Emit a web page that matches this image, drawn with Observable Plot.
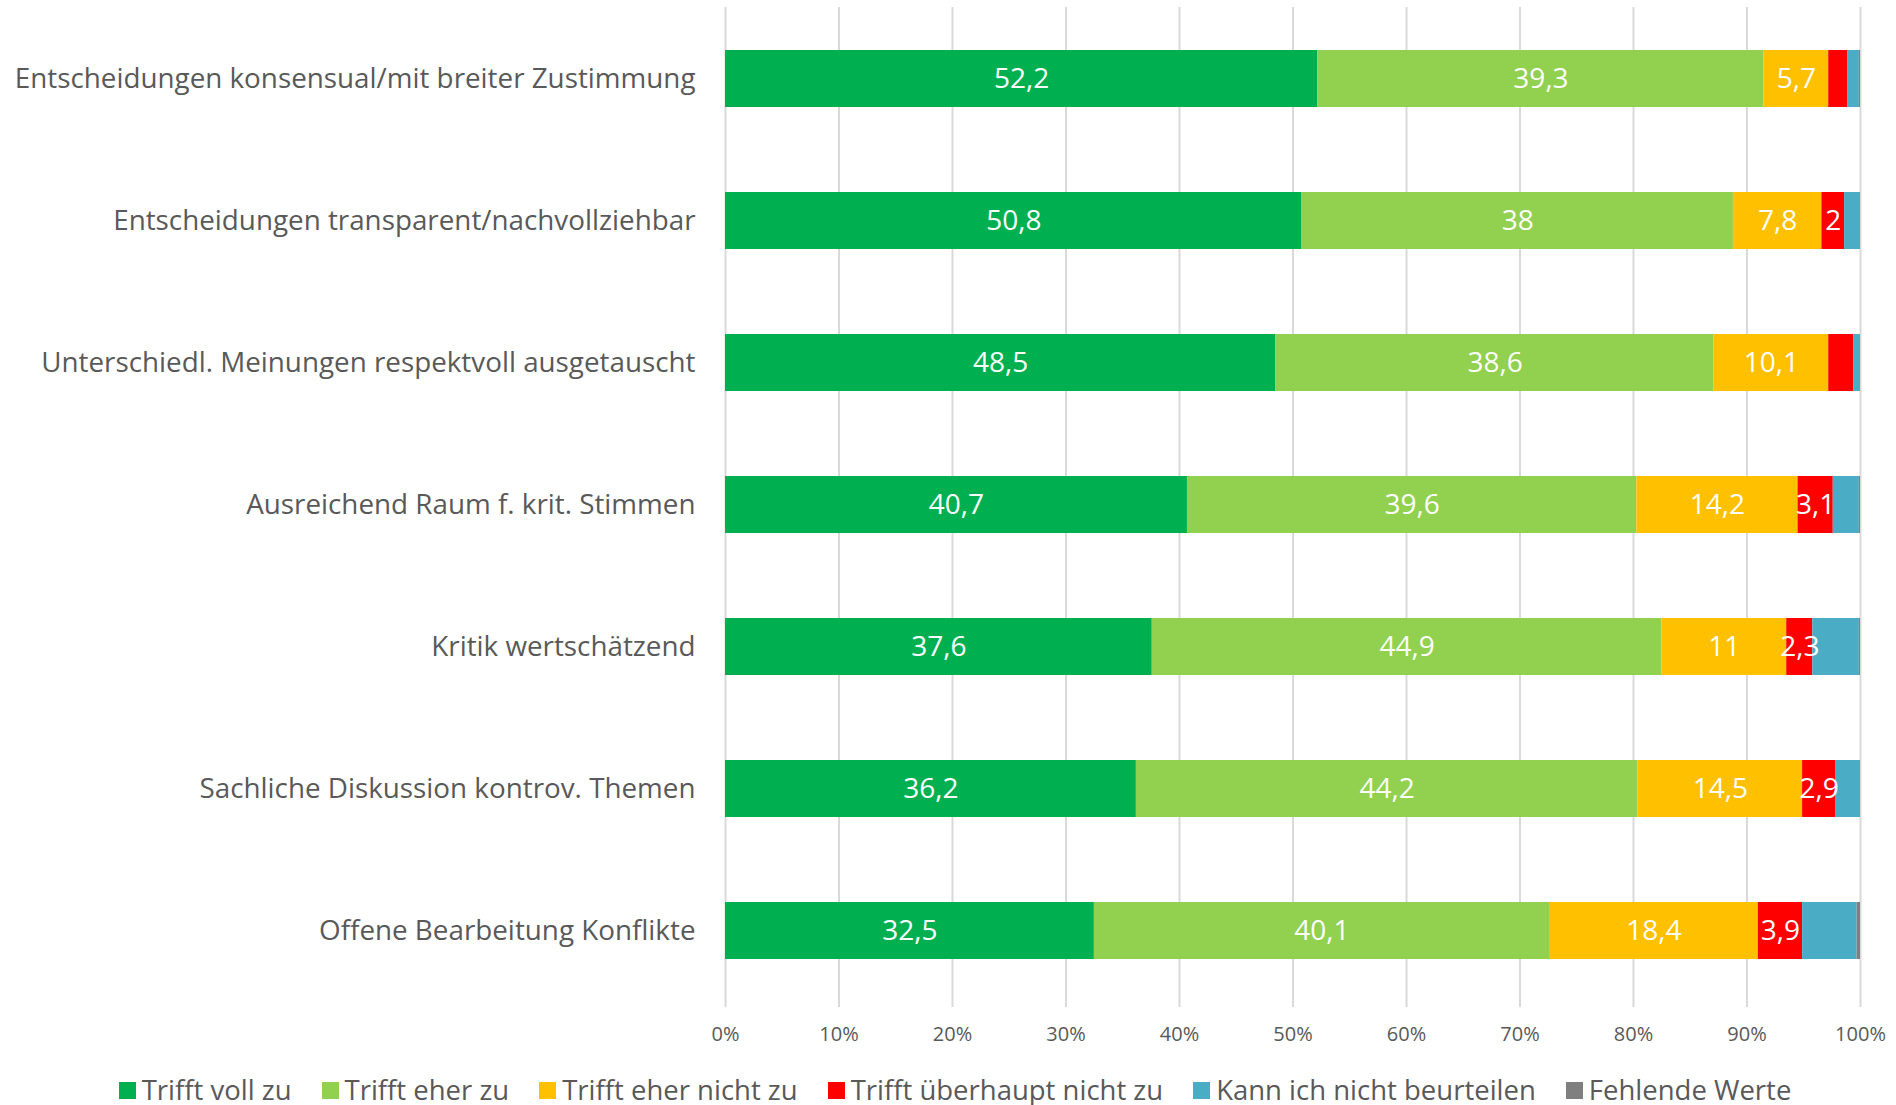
<!DOCTYPE html>
<html><head><meta charset="utf-8">
<script src="https://cdn.jsdelivr.net/npm/d3@7"></script>
<script src="https://cdn.jsdelivr.net/npm/@observablehq/plot@0.6"></script>
<style>
body{margin:0;background:#fff;font-family:"Open Sans",sans-serif;width:1896px;height:1105px;overflow:hidden}
#chart svg{display:block}
#legend{display:flex;justify-content:center;align-items:center;gap:30px;font-size:27.5px;line-height:1;color:#595959;height:36px;padding-top:12px;margin-left:14px}
#legend .item{display:flex;align-items:center;gap:6px}
#legend .sw{width:17px;height:17px;display:inline-block}
</style></head><body>
<div id="chart"></div><div id="legend"></div>
<script>
const categories = [
  "Entscheidungen konsensual/mit breiter Zustimmung",
  "Entscheidungen transparent/nachvollziehbar",
  "Unterschiedl. Meinungen respektvoll ausgetauscht",
  "Ausreichend Raum f. krit. Stimmen",
  "Kritik wertschätzend",
  "Sachliche Diskussion kontrov. Themen",
  "Offene Bearbeitung Konflikte"
];
const seriesNames = ["Trifft voll zu","Trifft eher zu","Trifft eher nicht zu","Trifft überhaupt nicht zu","Kann ich nicht beurteilen","Fehlende Werte"];
const seriesColors = ["#00B050","#92D050","#FFC000","#FF0000","#4BACC6","#7F7F7F"];
const trifftVollZu = [52.2, 50.8, 48.5, 40.7, 37.6, 36.2, 32.5];
const trifftEherZu = [39.3, 38, 38.6, 39.6, 44.9, 44.2, 40.1];
const trifftEherNichtZu = [5.7, 7.8, 10.1, 14.2, 11, 14.5, 18.4];
const trifftUeberhauptNichtZu = [1.7, 2, 2.2, 3.1, 2.3, 2.9, 3.9];
const kannNichtBeurteilen = [1.0, 1.4, 0.6, 2.3, 4.1, 2.2, 4.8];
const fehlendeWerte = [0.1, 0, 0, 0.1, 0.1, 0, 0.3];
// which series carry a data label, per category (red labels hidden where the original omits them)
const labelledSeries = [
  [0,1,2],[0,1,2,3],[0,1,2],[0,1,2,3],[0,1,2,3],[0,1,2,3],[0,1,2,3]
];
const xTicks = [0,10,20,30,40,50,60,70,80,90,100];

const seriesValues = [trifftVollZu, trifftEherZu, trifftEherNichtZu, trifftUeberhauptNichtZu, kannNichtBeurteilen, fehlendeWerte];
const rows = [];
categories.forEach((c, i) => {
  seriesValues.forEach((vals, s) => {
    rows.push({cat: c, series: seriesNames[s], value: vals[i],
      label: labelledSeries[i].includes(s) ? String(vals[i]).replace(".", ",") : ""});
  });
});

const chart = Plot.plot({
  width: 1896,
  height: 1060,
  marginLeft: 725,
  marginRight: 36,
  marginTop: 7,
  marginBottom: 58,
  style: {fontFamily: "'Open Sans', sans-serif", background: "#fff"},
  x: {domain: [0, 100]},
  y: {domain: categories, paddingInner: 0.6, paddingOuter: 0.3, label: null},
  color: {domain: seriesNames, range: seriesColors},
  marks: [
    Plot.gridX(xTicks, {stroke: "#d9d9d9", strokeOpacity: 1, strokeWidth: 2}),
    Plot.axisX({ticks: xTicks, tickFormat: d => d + "%", tickSize: 5, stroke: "#d9d9d9", strokeOpacity: 1, strokeWidth: 2, tickPadding: 19, fontSize: 20, fill: "#595959", label: null}),
    Plot.axisY({tickSize: 0, tickPadding: 30, fontSize: 27.8, fill: "#595959", label: null}),
    Plot.barX(rows, Plot.stackX({x: "value", y: "cat", z: "series", fill: "series", order: seriesNames})),
    Plot.text(rows, Plot.stackX({x: "value", y: "cat", z: "series", text: "label", order: seriesNames, fill: "white", fontSize: 28}))
  ]
});
document.getElementById("chart").appendChild(chart);

const legend = document.getElementById("legend");
seriesNames.forEach((n, i) => {
  const it = document.createElement("div");
  it.className = "item";
  it.innerHTML = `<span class="sw" style="background:${seriesColors[i]}"></span><span>${n}</span>`;
  legend.appendChild(it);
});
</script>
</body></html>
